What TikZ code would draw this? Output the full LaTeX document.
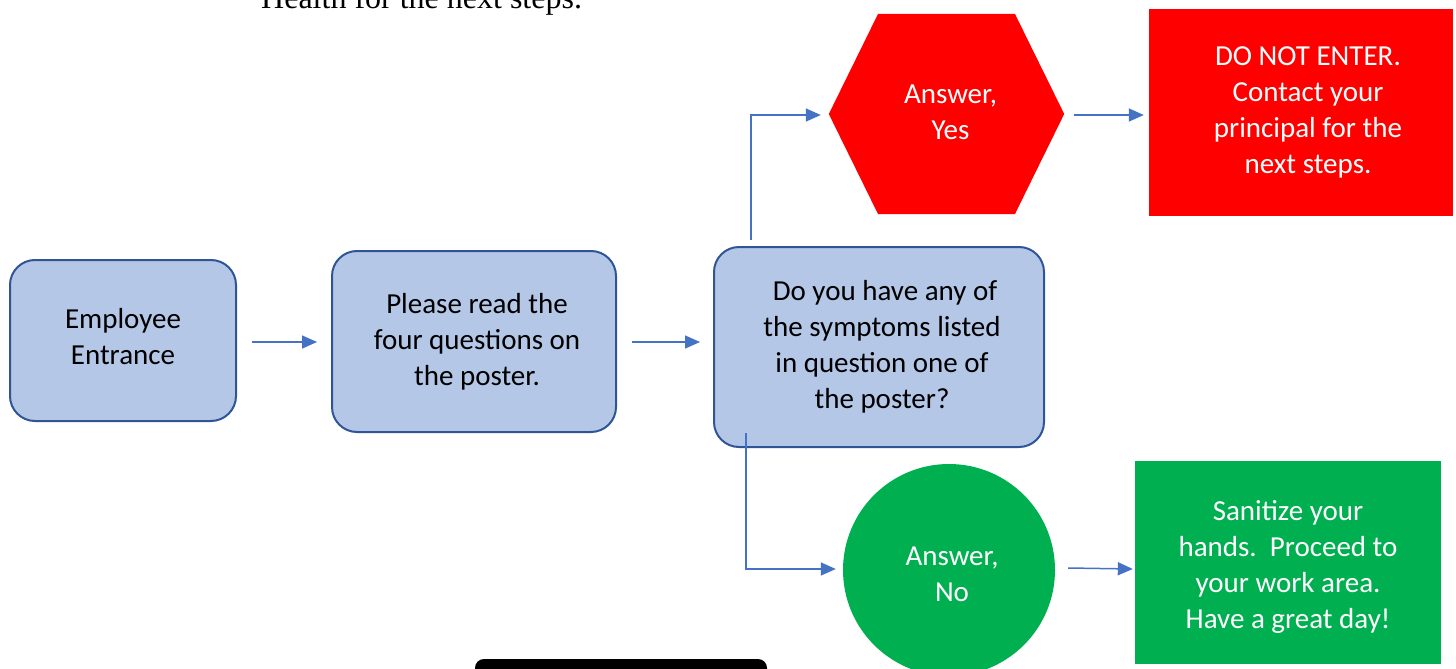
\documentclass[tikz,border=0pt]{standalone}
\usepackage{fontspec}
\setmainfont{Carlito}
\newfontfamily\serifface{Liberation Serif}
\usetikzlibrary{arrows.meta}
\definecolor{boxfill}{HTML}{B4C7E7}
\definecolor{boxline}{HTML}{2F5597}
\definecolor{arrowblue}{HTML}{4472C4}
\definecolor{stopred}{HTML}{FF0000}
\definecolor{gogreen}{HTML}{00B050}
\tikzset{
  txt/.style={align=center, font=\fontsize{29}{36}\selectfont, inner sep=0pt},
  wtxt/.style={txt, text=white},
  bluebox/.style={draw=boxline, line width=2pt, fill=boxfill, rounded corners=25pt, inner sep=0pt},
  redbox/.style={fill=stopred, inner sep=0pt},
  greenbox/.style={fill=gogreen, inner sep=0pt},
  arr/.style={draw=arrowblue, line width=1.5pt, -{Triangle[length=15pt,width=13pt]}}
}
\begin{document}
\begin{tikzpicture}[x=1pt,y=-1pt]
\useasboundingbox (0,0) rectangle (1456,669);
% partially visible text at top
\node[anchor=base west, inner sep=0pt, font=\serifface\fontsize{32}{38}\selectfont] (toptxt) at (261,9) {Health for the next steps.};
% partially visible black box at bottom
\fill[black, rounded corners=9pt] (475,659) rectangle (767,720);

\node[bluebox, minimum width=226pt, minimum height=161pt] (b1) at (123,340.5) {};
\node[txt] (b1t) at ([yshift=3.5pt]b1.center) {Employee\\Entrance};
\node[bluebox, minimum width=284pt, minimum height=181pt] (b2) at (474,341.5) {};
\node[txt] (b2t) at ([xshift=3pt]b2.center) {Please read the\\four questions on\\the poster.};
\node[bluebox, minimum width=330pt, minimum height=200pt] (b3) at (879,347) {};
\node[txt] (b3t) at ([xshift=3pt]b3.center) {\hspace*{6pt}Do you have any of\\the symptoms listed\\in question one of\\the poster?};

% hexagon
\node[minimum width=235pt, minimum height=200pt, inner sep=0pt] (hex) at (946.5,114) {};
\fill[stopred] (hex.west) -- (878,14) -- (1015,14) -- (hex.east) -- (1015,214) -- (878,214) -- cycle;
\node[wtxt] (hext) at ([xshift=4pt,yshift=2pt]hex.center) {Answer,\\Yes};

\node[redbox, minimum width=304pt, minimum height=207pt] (red) at (1301,112.5) {};
\node[wtxt] (redt) at ([xshift=7pt]red.center) {DO NOT ENTER.\\Contact your\\principal for the\\next steps.};

\node[circle, fill=gogreen, minimum size=212pt, inner sep=0pt] (circ) at (949,570) {};
\node[wtxt] (circt) at ([xshift=3pt,yshift=-4pt]circ.center) {Answer,\\No};

\node[greenbox, minimum width=306pt, minimum height=203pt] (green) at (1288,562.5) {};
\node[wtxt] (greent) at ([yshift=-4pt]green.center) {Sanitize your\\hands.\ \ Proceed to\\your work area.\\Have a great day!};

% connectors
\draw[arr] ([xshift=15pt,yshift=-1.5pt]b1.east) -- ([xshift=-14pt,yshift=-1.5pt]b1.east -| b2.west);
\draw[arr] ([xshift=15pt,yshift=-0.5pt]b2.east) -- ([xshift=-13pt,yshift=-0.5pt]b2.east -| b3.west);
\draw[arr] ([xshift=38pt,yshift=6pt]b3.north west) |- ([xshift=-8pt,yshift=-1pt]hex.west);
\draw[arr] ([xshift=33pt,yshift=15pt]b3.south west) |- ([xshift=-7pt,yshift=1pt]circ.west);
\draw[arr] ([xshift=10pt,yshift=-1pt]hex.east) -- ([xshift=-5pt,yshift=-1pt]hex.east -| red.west);
\draw[arr] ([xshift=13pt,yshift=2pt]circ.east) -- ([xshift=-2pt,yshift=1pt]circ.east -| green.west);
\end{tikzpicture}
\end{document}
